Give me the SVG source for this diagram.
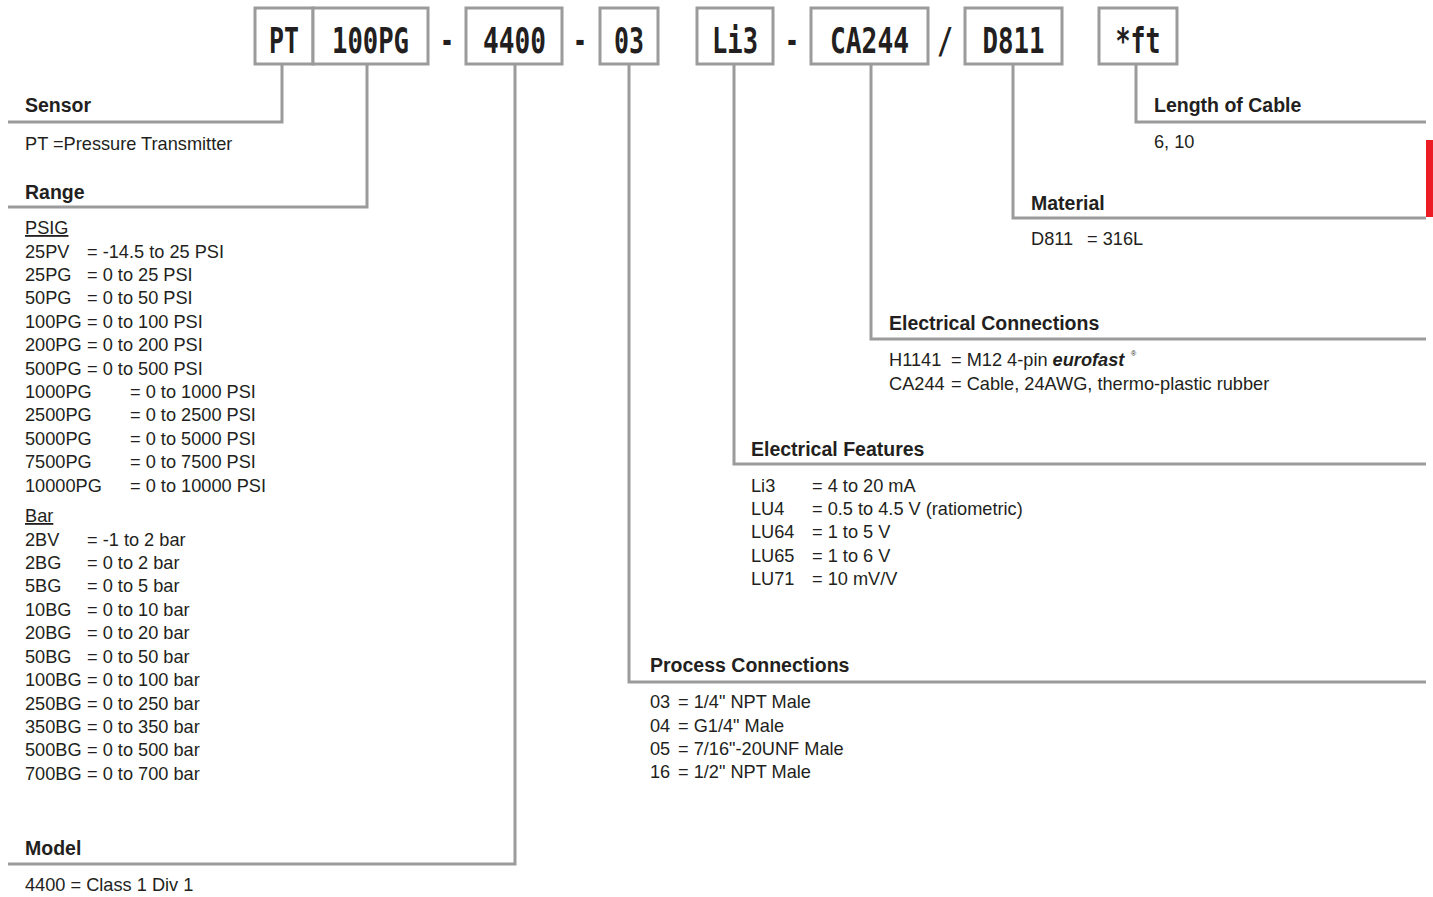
<svg xmlns="http://www.w3.org/2000/svg" width="1433" height="897" viewBox="0 0 1433 897">
<style>
.bx{fill:#fff;stroke:#9b9b9b;stroke-width:3}
.code{font-family:"DejaVu Sans Mono","Liberation Mono",monospace;font-weight:bold;font-size:35px;fill:#231f20;text-anchor:middle}
.sep{font-family:"DejaVu Sans Mono","Liberation Mono",monospace;font-weight:bold;font-size:35px;fill:#231f20;text-anchor:middle}
.ln{fill:none;stroke:#9b9b9b;stroke-width:3}
.t{font-family:"Liberation Sans",Arial,sans-serif;font-weight:bold;font-size:19.5px;fill:#231f20}
.d{font-family:"Liberation Sans",Arial,sans-serif;font-size:18.2px;fill:#231f20}
.u{text-decoration:underline}
.bi{font-weight:bold;font-style:italic}
.reg{font-family:"Liberation Sans",Arial,sans-serif;font-size:7px;fill:#231f20}
</style>
<rect width="1433" height="897" fill="#fff"/>
<g id="connectors">
<path class="ln" d="M282,64 V122 H8"/>
<path class="ln" d="M367,64 V207 H8"/>
<path class="ln" d="M515,64 V864 H8"/>
<path class="ln" d="M629,64 V682 H1426"/>
<path class="ln" d="M734,64 V464 H1426"/>
<path class="ln" d="M871,64 V339 H1426"/>
<path class="ln" d="M1013,64 V218 H1426"/>
<path class="ln" d="M1136,64 V122 H1426"/>
</g>
<g id="box-pt">
<rect class="bx" x="255" y="8" width="58" height="56"/>
<text class="code" x="284" y="53" textLength="30" lengthAdjust="spacingAndGlyphs">PT</text>
</g>
<g id="box-range">
<rect class="bx" x="313" y="8" width="115" height="56"/>
<text class="code" x="370.5" y="53" textLength="77" lengthAdjust="spacingAndGlyphs">100PG</text>
</g>
<text class="sep" x="447" y="53" textLength="14" lengthAdjust="spacingAndGlyphs">-</text>
<g id="box-model">
<rect class="bx" x="466" y="8" width="96" height="56"/>
<text class="code" x="514.5" y="53" textLength="63" lengthAdjust="spacingAndGlyphs">4400</text>
</g>
<text class="sep" x="580" y="53" textLength="14" lengthAdjust="spacingAndGlyphs">-</text>
<g id="box-process">
<rect class="bx" x="600" y="8" width="58" height="56"/>
<text class="code" x="629" y="53" textLength="30" lengthAdjust="spacingAndGlyphs">03</text>
</g>
<g id="box-features">
<rect class="bx" x="697" y="8" width="76" height="56"/>
<text class="code" x="735" y="53" textLength="46" lengthAdjust="spacingAndGlyphs">Li3</text>
</g>
<text class="sep" x="792" y="53" textLength="14" lengthAdjust="spacingAndGlyphs">-</text>
<g id="box-connections">
<rect class="bx" x="811" y="8" width="117" height="56"/>
<text class="code" x="869.5" y="53" textLength="79" lengthAdjust="spacingAndGlyphs">CA244</text>
</g>
<text class="sep" x="945" y="53" textLength="16" lengthAdjust="spacingAndGlyphs">/</text>
<g id="box-material">
<rect class="bx" x="965" y="8" width="97" height="56"/>
<text class="code" x="1013.5" y="53" textLength="62" lengthAdjust="spacingAndGlyphs">D811</text>
</g>
<g id="box-length">
<rect class="bx" x="1099" y="8" width="78" height="56"/>
<text class="code" x="1138" y="53" textLength="45" lengthAdjust="spacingAndGlyphs">*ft</text>
</g>
<g id="sensor">
<text class="t" x="25" y="112">Sensor</text>
<text class="d" x="25" y="150">PT =Pressure Transmitter</text>
</g>
<g id="range">
<text class="t" x="25" y="199">Range</text>
<text class="d u" x="25" y="234">PSIG</text>
<text class="d" y="258"><tspan x="25">25PV</tspan><tspan x="87">= -14.5 to 25 PSI</tspan></text>
<text class="d" y="281"><tspan x="25">25PG</tspan><tspan x="87">= 0 to 25 PSI</tspan></text>
<text class="d" y="304"><tspan x="25">50PG</tspan><tspan x="87">= 0 to 50 PSI</tspan></text>
<text class="d" y="328"><tspan x="25">100PG</tspan><tspan x="87">= 0 to 100 PSI</tspan></text>
<text class="d" y="351"><tspan x="25">200PG</tspan><tspan x="87">= 0 to 200 PSI</tspan></text>
<text class="d" y="375"><tspan x="25">500PG</tspan><tspan x="87">= 0 to 500 PSI</tspan></text>
<text class="d" y="398"><tspan x="25">1000PG</tspan><tspan x="130">= 0 to 1000 PSI</tspan></text>
<text class="d" y="421"><tspan x="25">2500PG</tspan><tspan x="130">= 0 to 2500 PSI</tspan></text>
<text class="d" y="445"><tspan x="25">5000PG</tspan><tspan x="130">= 0 to 5000 PSI</tspan></text>
<text class="d" y="468"><tspan x="25">7500PG</tspan><tspan x="130">= 0 to 7500 PSI</tspan></text>
<text class="d" y="492"><tspan x="25">10000PG</tspan><tspan x="130">= 0 to 10000 PSI</tspan></text>
<text class="d u" x="25" y="522">Bar</text>
<text class="d" y="546"><tspan x="25">2BV</tspan><tspan x="87">= -1 to 2 bar</tspan></text>
<text class="d" y="569"><tspan x="25">2BG</tspan><tspan x="87">= 0 to 2 bar</tspan></text>
<text class="d" y="592"><tspan x="25">5BG</tspan><tspan x="87">= 0 to 5 bar</tspan></text>
<text class="d" y="616"><tspan x="25">10BG</tspan><tspan x="87">= 0 to 10 bar</tspan></text>
<text class="d" y="639"><tspan x="25">20BG</tspan><tspan x="87">= 0 to 20 bar</tspan></text>
<text class="d" y="663"><tspan x="25">50BG</tspan><tspan x="87">= 0 to 50 bar</tspan></text>
<text class="d" y="686"><tspan x="25">100BG</tspan><tspan x="87">= 0 to 100 bar</tspan></text>
<text class="d" y="710"><tspan x="25">250BG</tspan><tspan x="87">= 0 to 250 bar</tspan></text>
<text class="d" y="733"><tspan x="25">350BG</tspan><tspan x="87">= 0 to 350 bar</tspan></text>
<text class="d" y="756"><tspan x="25">500BG</tspan><tspan x="87">= 0 to 500 bar</tspan></text>
<text class="d" y="780"><tspan x="25">700BG</tspan><tspan x="87">= 0 to 700 bar</tspan></text>
</g>
<g id="model">
<text class="t" x="25" y="855">Model</text>
<text class="d" x="25" y="891">4400 = Class 1 Div 1</text>
</g>
<g id="process">
<text class="t" x="650" y="672">Process Connections</text>
<text class="d" y="708"><tspan x="650">03</tspan><tspan x="678">= 1/4" NPT Male</tspan></text>
<text class="d" y="732"><tspan x="650">04</tspan><tspan x="678">= G1/4" Male</tspan></text>
<text class="d" y="755"><tspan x="650">05</tspan><tspan x="678">= 7/16"-20UNF Male</tspan></text>
<text class="d" y="778"><tspan x="650">16</tspan><tspan x="678">= 1/2" NPT Male</tspan></text>
</g>
<g id="features">
<text class="t" x="751" y="456">Electrical Features</text>
<text class="d" y="492"><tspan x="751">Li3</tspan><tspan x="812">= 4 to 20 mA</tspan></text>
<text class="d" y="515"><tspan x="751">LU4</tspan><tspan x="812">= 0.5 to 4.5 V (ratiometric)</tspan></text>
<text class="d" y="538"><tspan x="751">LU64</tspan><tspan x="812">= 1 to 5 V</tspan></text>
<text class="d" y="562"><tspan x="751">LU65</tspan><tspan x="812">= 1 to 6 V</tspan></text>
<text class="d" y="585"><tspan x="751">LU71</tspan><tspan x="812">= 10 mV/V</tspan></text>
</g>
<g id="connections">
<text class="t" x="889" y="330">Electrical Connections</text>
<text class="d" y="366"><tspan x="889">H1141</tspan><tspan x="951">= M12 4-pin </tspan><tspan class="bi">eurofast</tspan></text>
<text class="reg" x="1131" y="356">®</text>
<text class="d" y="390"><tspan x="889">CA244</tspan><tspan x="951">= Cable, 24AWG, thermo-plastic rubber</tspan></text>
</g>
<g id="material">
<text class="t" x="1031" y="210">Material</text>
<text class="d" y="245"><tspan x="1031">D811</tspan><tspan x="1087">= 316L</tspan></text>
</g>
<g id="length">
<text class="t" x="1154" y="112">Length of Cable</text>
<text class="d" x="1154" y="148">6, 10</text>
</g>
<rect x="1426" y="140" width="7" height="77" fill="#ed1c24"/>
</svg>
